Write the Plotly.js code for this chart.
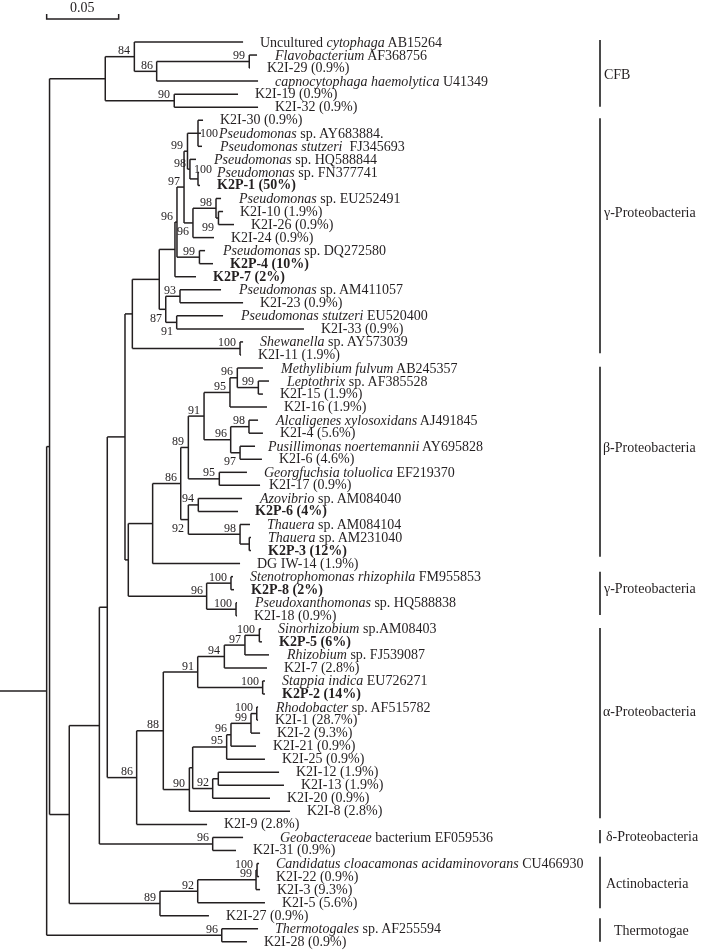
<!DOCTYPE html>
<html><head><meta charset="utf-8">
<script src="https://cdn.plot.ly/plotly-3.0.1.min.js"></script>
<style>html,body{margin:0;padding:0;background:#fff}#chart{width:703px;height:950px}
.main-svg{will-change:transform} svg text{-webkit-font-smoothing:antialiased}</style>
</head><body><div id="chart"></div>
<script>
// ---------- DATA ----------
// internal nodes: id, parent, distance from root start (substitutions/site), bootstrap support
const nodeIds = ['R','A','C1','C2','C3','C4','C5','Nbb','Nd','Ne','Nf','Ng1','Ng2','Nq','N96','N97','N99','Pa','N98','N100b','N96b','N98b','N99c','N99d','N87','N93','N91g','Nsh','Nh','Ndg','N86b','N89b','N91b','N95b','N96m','N99L','N96b2','N98a','N97p','N95g','N92b','N94b','N98t','Nt2','N96x','N100s','N100p','N86a','N88','N91a','N94a','N97a','N100sr','N100st','N90','Nx','N95a','N96a','N99a','N100rh','N92a','N1213','N96g','N89c','N92c','N99cc','N100cc','Nth'];
const nodeParent = [null,'R','A','C1','C2','C3','C1','A','Nbb','Nd','Ne','Nf','Ng1','Ng2','Nq','N96','N97','N99','N99','N98','N97','N96b','N98b','N96','Ng2','N87','N87','Ng1','Nf','Nh','Ndg','N86b','N89b','N91b','N95b','N96m','N91b','N96b2','N96b2','N89b','N86b','N92b','N92b','N98t','Nh','N96x','N96x','Ne','N86a','N88','N91a','N94a','N97a','N91a','N88','N90','Nx','N95a','N96a','N99a','Nx','N92a','Nd','Nbb','N89c','N92c','N99cc','R'];
const nodeDepth = [0.0324,0.0344,0.0731,0.0933,0.1088,0.1731,0.1210,0.0481,0.0690,0.0745,0.0868,0.0919,0.1106,0.1215,0.1229,0.1278,0.1302,0.1375,0.1319,0.1375,0.1340,0.1500,0.1517,0.1385,0.1151,0.1250,0.1227,0.1667,0.0891,0.1060,0.1255,0.1308,0.1417,0.1597,0.1648,0.1794,0.1602,0.1729,0.1667,0.1523,0.1308,0.1377,0.1667,0.1731,0.1435,0.1604,0.1639,0.0949,0.1134,0.1373,0.1558,0.1701,0.1801,0.1824,0.1315,0.1338,0.1574,0.1604,0.1743,0.1783,0.1477,0.1516,0.1477,0.1111,0.1373,0.1778,0.1785,0.1540];
const nodeSupport = [null,null,null,84,86,99,90,null,null,null,null,null,null,null,96,97,99,100,98,100,96,98,99,99,87,93,91,100,null,null,86,89,91,95,96,99,96,98,97,95,92,94,98,null,96,100,100,86,88,91,94,97,100,100,90,null,95,96,99,100,92,null,96,89,92,99,100,96];

// leaves (top to bottom)
const leafLabels = [
'Uncultured <i>cytophaga</i> AB15264',
'<i>Flavobacterium</i> AF368756',
'K2I-29 (0.9%)',
'<i>capnocytophaga haemolytica</i> U41349',
'K2I-19 (0.9%)',
'K2I-32 (0.9%)',
'K2I-30 (0.9%)',
'<i>Pseudomonas</i> sp. AY683884.',
'<i>Pseudomonas stutzeri</i>  FJ345693',
'<i>Pseudomonas</i> sp. HQ588844',
'<i>Pseudomonas</i> sp. FN377741',
'<b>K2P-1 (50%)</b>',
'<i>Pseudomonas</i> sp. EU252491',
'K2I-10 (1.9%)',
'K2I-26 (0.9%)',
'K2I-24 (0.9%)',
'<i>Pseudomonas</i> sp. DQ272580',
'<b>K2P-4 (10%)</b>',
'<b>K2P-7 (2%)</b>',
'<i>Pseudomonas</i> sp. AM411057',
'K2I-23 (0.9%)',
'<i>Pseudomonas stutzeri</i> EU520400',
'K2I-33 (0.9%)',
'<i>Shewanella</i> sp. AY573039',
'K2I-11 (1.9%)',
'<i>Methylibium fulvum</i> AB245357',
'<i>Leptothrix</i> sp. AF385528',
'K2I-15 (1.9%)',
'K2I-16 (1.9%)',
'<i>Alcaligenes xylosoxidans</i> AJ491845',
'K2I-4 (5.6%)',
'<i>Pusillimonas noertemannii</i> AY695828',
'K2I-6 (4.6%)',
'<i>Georgfuchsia toluolica</i> EF219370',
'K2I-17 (0.9%)',
'<i>Azovibrio</i> sp. AM084040',
'<b>K2P-6 (4%)</b>',
'<i>Thauera</i> sp. AM084104',
'<i>Thauera</i> sp. AM231040',
'<b>K2P-3 (12%)</b>',
'DG IW-14 (1.9%)',
'<i>Stenotrophomonas rhizophila</i> FM955853',
'<b>K2P-8 (2%)</b>',
'<i>Pseudoxanthomonas</i> sp. HQ588838',
'K2I-18 (0.9%)',
'<i>Sinorhizobium</i> sp.AM08403',
'<b>K2P-5 (6%)</b>',
'<i>Rhizobium</i> sp. FJ539087',
'K2I-7 (2.8%)',
'<i>Stappia indica</i> EU726271',
'<b>K2P-2 (14%)</b>',
'<i>Rhodobacter</i> sp. AF515782',
'K2I-1 (28.7%)',
'K2I-2 (9.3%)',
'K2I-21 (0.9%)',
'K2I-25 (0.9%)',
'K2I-12 (1.9%)',
'K2I-13 (1.9%)',
'K2I-20 (0.9%)',
'K2I-8 (2.8%)',
'K2I-9 (2.8%)',
'<i>Geobacteraceae</i> bacterium EF059536',
'K2I-31 (0.9%)',
'<i>Candidatus cloacamonas acidaminovorans</i> CU466930',
'K2I-22 (0.9%)',
'K2I-3 (9.3%)',
'K2I-5 (5.6%)',
'K2I-27 (0.9%)',
'<i>Thermotogales</i> sp. AF255594',
'K2I-28 (0.9%)'
];
const leafParent = ['C2','C4','C4','C3','C5','C5','Pa','Pa','Pa','N98',
'N100b','N100b','N98b','N99c','N99c','N96b','N99d','N99d','Nq','N93',
'N93','N91g','N91g','Nsh','Nsh','N96m','N99L','N99L','N95b','N98a',
'N98a','N97p','N97p','N95g','N95g','N94b','N94b','N98t','Nt2','Nt2',
'Ndg','N100s','N100s','N100p','N100p','N100sr','N100sr','N97a','N94a','N100st',
'N100st','N100rh','N100rh','N99a','N96a','N95a','N1213','N1213','N92a','N90',
'N86a','N96g','N96g','N100cc','N100cc','N99cc','N92c','N89c','Nth','Nth'];
const leafDepth = [0.1688,0.1785,0.1736,0.1792,0.1653,0.1792,0.1410,0.1396,0.1403,0.1361,
0.1382,0.1389,0.1535,0.1549,0.1625,0.1486,0.1424,0.1479,0.1361,0.1535,
0.1688,0.1549,0.2111,0.1688,0.1674,0.1826,0.1868,0.1826,0.1854,0.1792,
0.1826,0.1771,0.1819,0.1715,0.1806,0.1681,0.1653,0.1736,0.1743,0.1743,
0.1667,0.1618,0.1625,0.1646,0.1646,0.1813,0.1819,0.1868,0.1854,0.1840,
0.1840,0.1792,0.1792,0.1806,0.1778,0.1840,0.1938,0.1972,0.1875,0.2014,
0.1438,0.1688,0.1639,0.1799,0.1799,0.1806,0.1840,0.1451,0.1792,0.1715];

// clade brackets (in leaf-row units)
const cladeNames = ['CFB','γ-Proteobacteria','β-Proteobacteria','γ-Proteobacteria','α-Proteobacteria','δ-Proteobacteria','Actinobacteria','Thermotogae'];
const cladeFrom  = [-0.15, 5.85, 24.9, 40.62, 44.94, 60.43, 62.48, 67.2];
const cladeTo    = [4.96, 23.87, 39.47, 43.94, 59.53, 61.45, 66.43, 69.0];
const cladeTextRow = [2.53, 13.11, 31.13, 41.9, 51.36, 60.94, 64.52, 68.1];

const scaleBarValue = 0.05;

// ---------- LAYOUT CONSTANTS ----------
const W = 703, H = 950;
const PXU = 1440;               // pixels per substitution unit
const ROW = 13.04, TOP = 42;    // pixels per leaf row, first row center
const px2x = p => p / PXU;
const py2r = p => p / ROW;
const labelsBelow = ['N96b','N99c','N87','N91g','N97p','N92b'];
const labelSpecial = {Pa: {dx: 1, dy: 0}, N100b: {dx: -5, dy: -9.5}};
const leafGapPx = {31: 11, 34: 8, 61: 36};
const cladeLinePx = 600;
const cladeTextPx = [603, 602, 602, 602, 602, 605, 605, 613];
const FONT = 'Liberation Serif, Times New Roman, serif';
const INK = '#231f20';

// ---------- TREE LAYOUT ----------
const children = {};
nodeIds.forEach(id => children[id] = []);
nodeIds.forEach((id, k) => { if (nodeParent[k]) children[nodeParent[k]].push({t:'n', k}); });
leafLabels.forEach((l, i) => children[leafParent[i]].push({t:'l', i}));
const nodeY = {};
function yOf(c) { return c.t === 'l' ? c.i : yNode(nodeIds[c.k]); }
function xOf(c) { return c.t === 'l' ? leafDepth[c.i] : nodeDepth[c.k]; }
function yNode(id) {
  if (nodeY[id] !== undefined) return nodeY[id];
  const ys = children[id].map(yOf);
  return nodeY[id] = (Math.min(...ys) + Math.max(...ys)) / 2;
}
const xs = [], ys = [];
function seg(x0, y0, x1, y1) { xs.push(x0, x1, null); ys.push(y0, y1, null); }
nodeIds.forEach((id, k) => {
  const x = nodeDepth[k];
  const ch = children[id];
  const cy = ch.map(yOf);
  seg(x, Math.min(...cy), x, Math.max(...cy));
  ch.forEach((c, j) => seg(x, cy[j], xOf(c), cy[j]));
});
const rootK = nodeParent.indexOf(null);
const rootY = yNode(nodeIds[rootK]);
seg(0, rootY, nodeDepth[rootK], rootY);

// scale bar
const sbY = py2r(19 - TOP), sbTick = py2r(5);
const sbX0 = nodeDepth[rootK];
const sx = [sbX0, sbX0, sbX0 + scaleBarValue, sbX0 + scaleBarValue];
const sy = [sbY - sbTick, sbY, sbY, sbY - sbTick];

// clade lines
const cx = [], cyy = [];
cladeNames.forEach((n, k) => { cx.push(px2x(cladeLinePx), px2x(cladeLinePx), null); cyy.push(cladeFrom[k], cladeTo[k], null); });

const annotations = [];
leafLabels.forEach((lab, i) => {
  const gap = leafGapPx[i] !== undefined ? leafGapPx[i] : 16;
  annotations.push({x: leafDepth[i] + px2x(gap), y: i, text: lab, xanchor: 'left', yanchor: 'middle',
    showarrow: false, font: {family: FONT, size: 14, color: INK}, borderpad: 0});
});
nodeIds.forEach((id, k) => {
  if (nodeSupport[k] === null) return;
  const y = yNode(id), x = nodeDepth[k];
  let a;
  if (labelSpecial[id]) a = {x: x + px2x(labelSpecial[id].dx), y: y + py2r(labelSpecial[id].dy), xanchor: 'left'};
  else if (labelsBelow.includes(id)) a = {x: x - px2x(3), y: y + py2r(8.5), xanchor: 'right'};
  else a = {x: x - px2x(3), y: y - py2r(6.5), xanchor: 'right'};
  annotations.push(Object.assign(a, {text: String(nodeSupport[k]), yanchor: 'middle', showarrow: false,
    borderpad: 0, font: {family: FONT, size: 12, color: INK}}));
});
cladeNames.forEach((n, k) => annotations.push({x: px2x(cladeTextPx[k]), y: cladeTextRow[k], text: n,
  xanchor: 'left', yanchor: 'middle', showarrow: false, borderpad: 0, font: {family: FONT, size: 14, color: INK}}));
annotations.push({x: sbX0 + scaleBarValue / 2, y: py2r(7 - TOP), text: String(scaleBarValue), xanchor: 'center', yanchor: 'middle',
  showarrow: false, borderpad: 0, font: {family: FONT, size: 14, color: INK}});

const traces = [
  {type: 'scatter', mode: 'lines', x: xs, y: ys, line: {color: INK, width: 1.5}, hoverinfo: 'skip', connectgaps: false},
  {type: 'scatter', mode: 'lines', x: sx, y: sy, line: {color: INK, width: 1.5}, hoverinfo: 'skip'},
  {type: 'scatter', mode: 'lines', x: cx, y: cyy, line: {color: '#4a4a4a', width: 2}, hoverinfo: 'skip', connectgaps: false}
];
const layout = {
  width: W, height: H, margin: {l: 0, r: 0, t: 0, b: 0}, showlegend: false,
  paper_bgcolor: '#fff', plot_bgcolor: '#fff',
  xaxis: {range: [0, px2x(W)], visible: false, fixedrange: true},
  yaxis: {range: [py2r(H - TOP), py2r(-TOP)], visible: false, fixedrange: true},
  annotations: annotations
};
Plotly.newPlot('chart', traces, layout, {staticPlot: true, displayModeBar: false});
</script>
</body></html>
